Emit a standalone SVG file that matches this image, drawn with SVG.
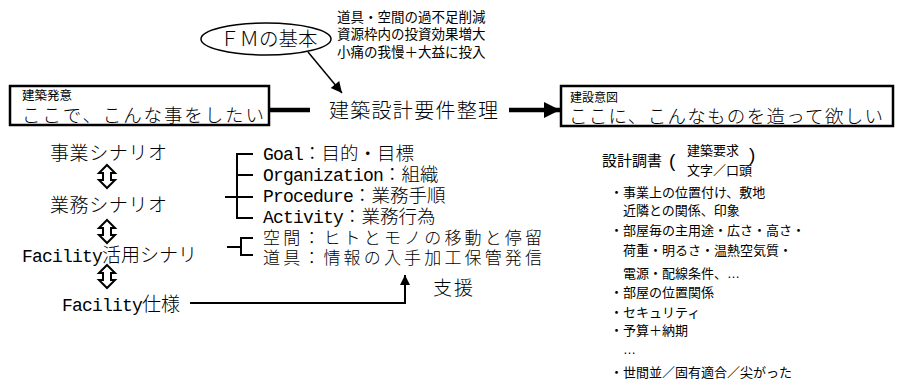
<svg xmlns="http://www.w3.org/2000/svg" width="902" height="381" viewBox="0 0 902 381">
<style>
.mi{font-family:"Liberation Serif","Noto Sans CJK JP",serif;fill:#000;font-weight:300}
.go{font-family:"Liberation Sans","Noto Sans CJK JP",sans-serif;fill:#000}
.mo{font-family:"Liberation Mono",monospace;font-size:18px;letter-spacing:-0.8px;font-weight:400}
.ln{stroke:#000;fill:none;stroke-width:2}
.box{fill:#fff;stroke:#000;stroke-width:2.5}
.dar{fill:#fff;stroke:#000;stroke-width:2;stroke-linejoin:miter}
</style>
<defs>
<marker id="ah" viewBox="0 0 10 10" refX="10" refY="5" markerUnits="userSpaceOnUse" markerWidth="14" markerHeight="11" orient="auto"><path d="M0,0 L10,5 L0,10 z" fill="#000"/></marker>
<marker id="ahb" viewBox="0 0 10 10" refX="10" refY="5" markerUnits="userSpaceOnUse" markerWidth="24" markerHeight="16" orient="auto"><path d="M0,0 L10,5 L0,10 z" fill="#000"/></marker>
<marker id="ahu" viewBox="0 0 10 10" refX="10" refY="5" markerUnits="userSpaceOnUse" markerWidth="14" markerHeight="10" orient="auto"><path d="M0,0 L10,5 L0,10 z" fill="#000"/></marker>
</defs>

<g id="fm">
<ellipse cx="266" cy="39" rx="65" ry="16" fill="#fff" stroke="#000" stroke-width="1.5"/>
<text class="mi" x="220" y="46" font-size="19.5">ＦＭの基本</text>
</g>
<g id="fm-notes" class="go" font-size="13.5">
<text x="337" y="22">道具・空間の過不足削減</text>
<text x="337" y="39">資源枠内の投資効果増大</text>
<text x="337" y="57">小痛の我慢＋大益に投入</text>
</g>

<g id="hatsui">
<rect class="box" x="10" y="86" width="259" height="39"/>
<text class="go" x="22" y="100" font-size="12.5">建築発意</text>
<text class="mi" x="22" y="122" font-size="18.5" textLength="242" lengthAdjust="spacing">ここで、こんな事をしたい</text>
</g>

<g id="seiri">
<text class="mi" x="329" y="118" font-size="20" textLength="169" lengthAdjust="spacing">建築設計要件整理</text>
</g>

<g id="ito">
<rect class="box" x="561" y="86" width="332" height="40"/>
<text class="go" x="570" y="102" font-size="12">建設意図</text>
<text class="mi" x="569" y="123" font-size="18.5" textLength="314" lengthAdjust="spacing">ここに、こんなものを造って欲しい</text>
</g>

<g id="scenario" class="mi" font-size="19">
<text x="50" y="160" textLength="117" lengthAdjust="spacing">事業シナリオ</text>
<text x="50" y="212" textLength="117" lengthAdjust="spacing">業務シナリオ</text>
<text x="22" y="262"><tspan class="mo">Facility</tspan>活用シナリ</text>
<text x="62" y="311"><tspan class="mo">Facility</tspan>仕様</text>
</g>
<g id="dbl-arrows">
<path class="dar" d="M107,165 L115,173 L111,173 L111,180 L115,180 L107,188 L99,180 L103,180 L103,173 L99,173 Z"/>
<path class="dar" d="M107,220 L115,228 L111,228 L111,235 L115,235 L107,243 L99,235 L103,235 L103,228 L99,228 Z"/>
<path class="dar" d="M107,265 L115,273 L111,273 L111,280 L115,280 L107,288 L99,280 L103,280 L103,273 L99,273 Z"/>
</g>

<g id="gopa" class="mi" font-size="18.5">
<text x="263" y="160"><tspan class="mo">Goal</tspan>：目的・目標</text>
<text x="263" y="181"><tspan class="mo">Organization</tspan>：組織</text>
<text x="263" y="202"><tspan class="mo">Procedure</tspan>：業務手順</text>
<text x="263" y="223"><tspan class="mo">Activity</tspan>：業務行為</text>
</g>
<g id="facility" class="mi" font-size="17">
<text x="263" y="244" textLength="279" lengthAdjust="spacing">空間：ヒトとモノの移動と停留</text>
<text x="263" y="264" textLength="279" lengthAdjust="spacing">道具：情報の入手加工保管発信</text>
</g>
<g id="shien">
<text class="mi" x="433" y="295" font-size="19" textLength="40" lengthAdjust="spacing">支援</text>
</g>

<g id="chousho">
<text class="go" x="602" y="166" font-size="15">設計調書</text>
<text class="go" x="669" y="167" font-size="19">(</text>
<text class="go" x="749" y="161" font-size="19">)</text>
<text class="go" x="687" y="155" font-size="13">建築要求</text>
<text class="go" x="687" y="175" font-size="13">文字／口頭</text>
</g>
<g id="list" class="go" font-size="13">
<text x="610" y="197">・事業上の位置付け、敷地</text>
<text x="623" y="215">近隣との関係、印象</text>
<text x="610" y="235">・部屋毎の主用途・広さ・高さ・</text>
<text x="623" y="255">荷重・明るさ・温熱空気質・</text>
<text x="623" y="278">電源・配線条件、…</text>
<text x="610" y="297">・部屋の位置関係</text>
<text x="610" y="317">・セキュリティ</text>
<text x="610" y="335">・予算＋納期</text>
<text x="623" y="354">…</text>
<text x="610" y="377">・世間並／固有適合／尖がった</text>
</g>

<g id="connectors">
<line x1="308" y1="52" x2="342" y2="93" stroke="#000" stroke-width="1.5" marker-end="url(#ah)"/>
<line x1="269" y1="110" x2="310" y2="110" stroke="#000" stroke-width="4.5"/>
<line x1="509" y1="110" x2="560" y2="110" stroke="#000" stroke-width="4.5" marker-end="url(#ahb)"/>
<path class="ln" d="M253,154 H237 V218 H253 M237,175 H253 M225,197 H253"/>
<path class="ln" d="M253,238 H241 V255 H253 M227,247 H241"/>
<path class="ln" d="M190,303 H405 V275" marker-end="url(#ahu)"/>
</g>
</svg>
